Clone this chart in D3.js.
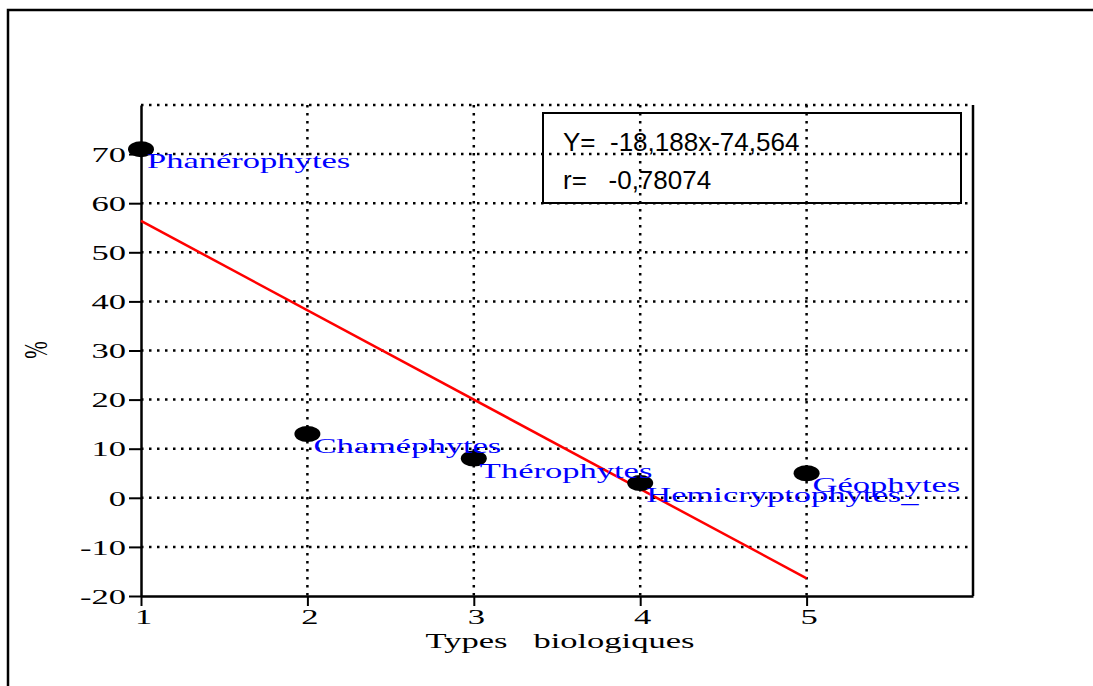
<!DOCTYPE html>
<html>
<head>
<meta charset="utf-8">
<script src="https://cdn.jsdelivr.net/npm/d3@7"></script>
<style>
  body { margin: 0; background: #fff; }
  text { white-space: pre; }
</style>
</head>
<body>
<div id="chart"></div>
<script>
// Data
const types = ["Phanérophytes", "Chaméphytes", "Thérophytes", "Hemicryptophytes_", "Géophytes"];
const typeX = [1, 2, 3, 4, 5];
const percent = [71, 13, 8, 3, 5];
const fitX = [1, 5];
const fitY = [56.4, -16.4];
const xTicks = [1, 2, 3, 4, 5];
const yTicks = [-20, -10, 0, 10, 20, 30, 40, 50, 60, 70];
const gridY = [-10, 0, 10, 20, 30, 40, 50, 60, 70, 80];
const gridX = [2, 3, 4, 5];
const legendLines = ["Y=  -18,188x-74,564", "r=   -0,78074"];

const W = 1093, H = 686;
const serif = "'Liberation Serif', 'Times New Roman', serif";
const stretch = 1.57; // serif text is widened in the original

const svg = d3.select("#chart").append("svg").attr("width", W).attr("height", H);

// Outer frame (left and top edges only visible)
svg.append("path")
  .attr("d", `M8,${H} L8,10 L${W},10`)
  .attr("fill", "none").attr("stroke", "black").attr("stroke-width", 2.5);

// Scales
const xScale = d3.scaleLinear().domain([1, 6]).range([141, 973]);
const yScale = d3.scaleLinear().domain([-20, 80]).range([596, 105]);

const g = svg.append("g");

// Dotted grid
g.selectAll(".hgrid").data(gridY).enter().append("line")
  .attr("class", "hgrid")
  .attr("x1", xScale(1)).attr("x2", xScale(6))
  .attr("y1", (d) => yScale(d)).attr("y2", (d) => yScale(d))
  .attr("stroke", "black").attr("stroke-width", 2.5)
  .attr("stroke-dasharray", "2.5,5.5");
g.selectAll(".vgrid").data(gridX).enter().append("line")
  .attr("class", "vgrid")
  .attr("x1", (d) => xScale(d)).attr("x2", (d) => xScale(d))
  .attr("y1", yScale(80)).attr("y2", yScale(-20))
  .attr("stroke", "black").attr("stroke-width", 2.5)
  .attr("stroke-dasharray", "2.5,5.5");

// Right border of the plot
g.append("line")
  .attr("x1", xScale(6)).attr("x2", xScale(6))
  .attr("y1", yScale(80)).attr("y2", yScale(-20))
  .attr("stroke", "black").attr("stroke-width", 2.5);

// Y axis
const yAxis = g.append("g")
  .attr("transform", `translate(${xScale(1)},0)`)
  .call(d3.axisLeft(yScale).tickValues(yTicks).tickFormat((d) => String(d))
    .tickSize(12).tickSizeOuter(0));
yAxis.select(".domain").attr("stroke-width", 2.5);
yAxis.selectAll(".tick line").attr("stroke-width", 2);
yAxis.selectAll(".tick text")
  .attr("font-family", serif).attr("font-size", 22).attr("fill", "black")
  .attr("x", -15 / stretch).attr("dy", "0.33em")
  .attr("transform", `scale(${stretch},1)`);

// X axis
const xAxis = g.append("g")
  .attr("transform", `translate(0,${yScale(-20)})`)
  .call(d3.axisBottom(xScale).tickValues(xTicks).tickFormat((d) => String(d))
    .tickSize(10).tickSizeOuter(0));
xAxis.select(".domain").attr("stroke-width", 2.5);
xAxis.selectAll(".tick line").attr("stroke-width", 2);
xAxis.selectAll(".tick text")
  .attr("font-family", serif).attr("font-size", 22).attr("fill", "black")
  .attr("x", 2 / stretch).attr("y", 13).attr("dy", "0.7em")
  .attr("transform", `scale(${stretch},1)`);

// Axis titles
svg.append("text")
  .attr("transform", `translate(560,648) scale(${stretch},1)`)
  .attr("text-anchor", "middle")
  .attr("font-family", serif).attr("font-size", 22)
  .text("Types   biologiques");
svg.append("text")
  .attr("transform", `translate(47,350) scale(${stretch},1) rotate(-90)`)
  .attr("text-anchor", "middle")
  .attr("font-family", serif).attr("font-size", 21)
  .text("%");

// Regression line
const fit = fitX.map((x, i) => ({ x: x, y: fitY[i] }));
const line = d3.line().x((d) => xScale(d.x)).y((d) => yScale(d.y));
g.append("path")
  .datum(fit)
  .attr("d", line)
  .attr("fill", "none").attr("stroke", "#ff0000").attr("stroke-width", 2.5);

// Points
const pts = types.map((t, i) => ({ name: t, x: typeX[i], y: percent[i] }));
g.selectAll(".pt").data(pts).enter().append("ellipse")
  .attr("class", "pt")
  .attr("cx", (d) => xScale(d.x)).attr("cy", (d) => yScale(d.y))
  .attr("rx", 13).attr("ry", 8)
  .attr("fill", "black");

// Point labels
g.selectAll(".lbl").data(pts).enter().append("text")
  .attr("class", "lbl")
  .attr("transform", (d) => `translate(${xScale(d.x) + 6},${yScale(d.y) + 19}) scale(${stretch},1)`)
  .attr("font-family", serif).attr("font-size", 22)
  .attr("fill", "#0000ff")
  .text((d) => d.name);

// Equation box
const legend = svg.append("g");
legend.append("rect")
  .attr("x", 543).attr("y", 113).attr("width", 418).attr("height", 90)
  .attr("fill", "none").attr("stroke", "black").attr("stroke-width", 2);
legend.selectAll("text").data(legendLines).enter().append("text")
  .attr("x", 563).attr("y", (d, i) => 151 + i * 38)
  .attr("font-family", "'Liberation Sans', Arial, sans-serif")
  .attr("font-size", 26)
  .text((d) => d);
</script>
</body>
</html>
